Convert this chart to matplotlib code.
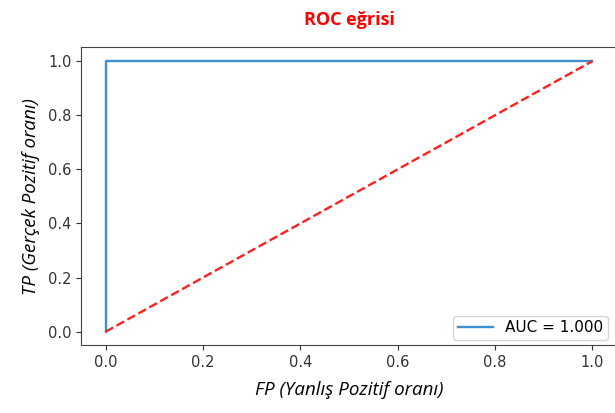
import matplotlib.pyplot as plt

# ROC data
fpr = [0.0, 0.0, 1.0]
tpr = [0.0, 1.0, 1.0]
diag = [0.0, 1.0]
auc = 1.000

fig = plt.figure(figsize=(6.15, 4.13), dpi=100)
ax = fig.add_axes([0.132, 0.164, 0.871, 0.721])

ax.plot(fpr, tpr, color='#3d8fd0', lw=1.7, label='AUC = %0.3f' % auc)
ax.plot(diag, diag, '--', color='#ff2020', lw=1.7)
ax.legend(loc='lower right', fontsize=11, borderpad=0.3,
          handlelength=2.3, borderaxespad=0.35,
          bbox_to_anchor=(0.993, 0.0))

ax.tick_params(labelsize=10.5, colors='#333333')
ax.set_xticks([0.0, 0.2, 0.4, 0.6, 0.8, 1.0])
ax.set_yticks([0.0, 0.2, 0.4, 0.6, 0.8, 1.0])
for s in ax.spines.values():
    s.set_color('#444444')

ax.set_xlabel('FP (Yanlış Pozitif oranı)', family='Open Sans', style='italic',
              fontsize=13.5, labelpad=8)
ax.set_ylabel('TP (Gerçek Pozitif oranı)', family='Open Sans', style='italic',
              fontsize=13.5, labelpad=6)
ax.set_title('ROC eğrisi', family='Open Sans', weight='bold', color='red',
             fontsize=13, pad=16)

fig.savefig('out.png', dpi=100)
